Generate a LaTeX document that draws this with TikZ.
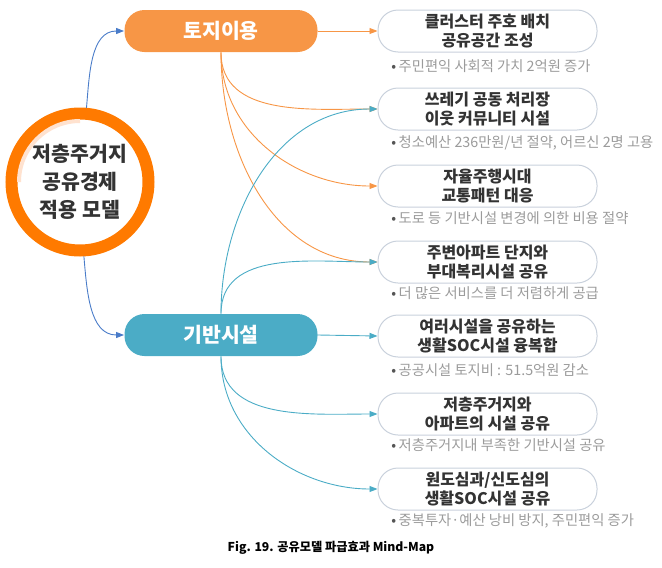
\documentclass[tikz,border=0pt]{standalone}
\usepackage{fontspec}
\setmainfont{Noto Sans CJK KR}
\usetikzlibrary{arrows.meta}
\definecolor{ring}{HTML}{FF7A00}
\definecolor{gloss}{HTML}{FFE2CF}
\definecolor{landc}{HTML}{F79646}
\definecolor{infrac}{HTML}{4BACC6}
\definecolor{rootc}{HTML}{4A7CC9}
\definecolor{boxline}{HTML}{C9D1DC}
\definecolor{textdark}{HTML}{333333}
\definecolor{notegray}{HTML}{9B9B9B}
\definecolor{dotgray}{HTML}{555555}
\begin{document}
\begin{tikzpicture}[x=1pt, y=1pt, >={Triangle[length=8pt,width=6pt]}, line width=0.9pt,
    hub node/.style={rectangle, rounded corners=20pt, minimum width=193pt, minimum height=42pt, text=white, font=\fontsize{20.5}{24}\selectfont\bfseries},
    main node/.style={rectangle, rounded corners=20pt, draw=boxline, line width=1pt, fill=white, minimum width=219pt, minimum height=42pt, inner sep=1pt, align=center, text=textdark, font=\fontsize{16}{18.5}\selectfont\bfseries},
    note node/.style={anchor=west, inner sep=0pt, text=notegray, font=\fontsize{14.3}{16}\selectfont}]
                \useasboundingbox (0,0) rectangle (662,-568);

                \node[circle, draw=ring, line width=12pt, fill=white, minimum size=137pt, inner sep=0pt, align=center, text=textdark, font=\fontsize{20.5}{28}\selectfont\bfseries] at (80, -182) (c) {저층주거지\\공유경제\\적용 모델};
                \draw[gloss, line width=4pt] (19,-182) arc[start angle=180, end angle=90, radius=61pt];

                \node[hub node, fill=landc] at (221, -31) (h1) {토지이용};
                \node[hub node, fill=infrac] at (221, -335) (h2) {기반시설};

                \node[main node] at (487.5, -31) (1) {클러스터 주호 배치\\공유공간 조성};
                \node[main node] at (487.5, -109) (2) {쓰레기 공동 처리장\\이웃 커뮤니티 시설};
                \node[main node] at (487.5, -186) (3) {자율주행시대\\교통패턴 대응};
                \node[main node] at (487.5, -262) (4) {주변아파트 단지와\\부대복리시설 공유};
                \node[main node] at (487.5, -336) (5) {여러시설을 공유하는\\생활SOC시설 융복합};
                \node[main node] at (487.5, -414) (6) {저층주거지와\\아파트의 시설 공유};
                \node[main node] at (487.5, -489) (7) {원도심과/신도심의\\생활SOC시설 공유};

                \node[note node] at (391, -66) (n1) {{\color{dotgray}•}\,주민편익 사회적 가치 2억원 증가};
                \node[note node] at (391, -143) (n2) {{\color{dotgray}•}\,청소예산 236만원/년 절약, 어르신 2명 고용};
                \node[note node] at (391, -218) (n3) {{\color{dotgray}•}\,도로 등 기반시설 변경에 의한 비용 절약};
                \node[note node] at (391, -293) (n4) {{\color{dotgray}•}\,더 많은 서비스를 더 저렴하게 공급};
                \node[note node] at (391, -370) (n5) {{\color{dotgray}•}\,공공시설 토지비 : 51.5억원 감소};
                \node[note node] at (391, -445) (n6) {{\color{dotgray}•}\,저층주거지내 부족한 기반시설 공유};
                \node[note node] at (391, -521) (n7) {{\color{dotgray}•}\,중복투자·예산 낭비 방지, 주민편익 증가};

                \node[font=\fontsize{12.2}{14}\selectfont\bfseries] at (331, -548) (cap) {Fig. 19. 공유모델 파급효과 Mind-Map};

            \path[->] (c.85) edge[rootc, out=85, in=180] (h1.west);
            \path[->] (c.-87) edge[rootc, out=-85, in=180] (h2.west);

            \path[->] (h1.east) edge[landc] (1.west);
            \path[->] (h1.south) edge[landc, out=-90, in=180] (2.west);
            \path[->] (h1.south) edge[landc, out=-90, in=180] (3.west);
            \path[->] (h1.south) edge[landc, out=-90, in=180] (4.west);

            \path[->] (h2.north) edge[infrac, out=90, in=180] (2.west);
            \path[->] (h2.north) edge[infrac, out=90, in=180] (4.west);
            \path[->] (h2.east) edge[infrac] (5.west);
            \path[->] (h2.south) edge[infrac, out=-90, in=180] (6.west);
            \path[->] (h2.south) edge[infrac, out=-90, in=180] (7.west);

            \end{tikzpicture}
\end{document}
